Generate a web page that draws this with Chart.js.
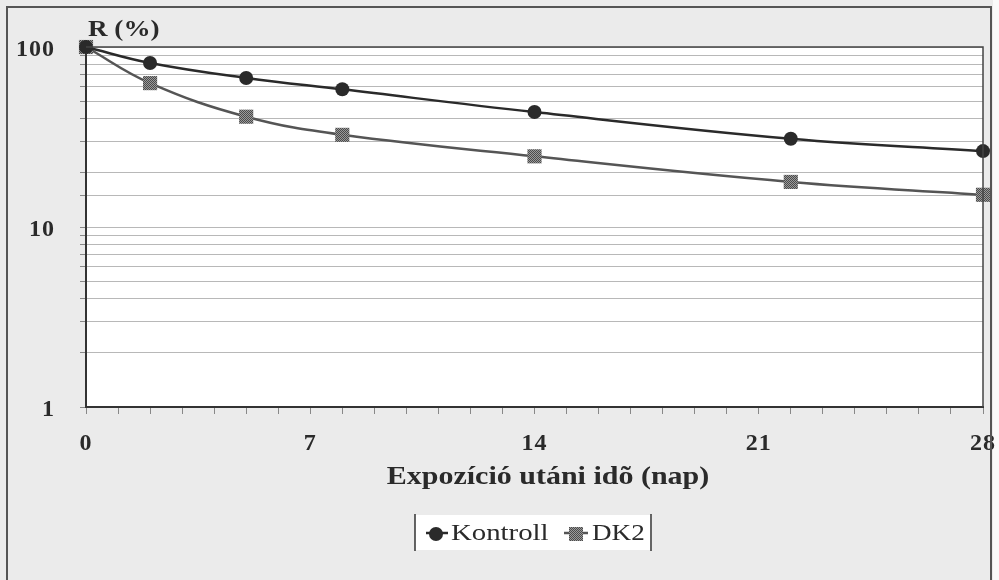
<!DOCTYPE html>
<html>
<head>
<meta charset="utf-8">
<script src="https://cdn.jsdelivr.net/npm/chart.js@4.4.1/dist/chart.umd.min.js"></script>
<style>
  html, body { margin: 0; padding: 0; background: #ebebeb; }
  #wrap { width: 999px; height: 580px; }
</style>
</head>
<body>
<div id="wrap"><canvas id="chart" width="999" height="580"></canvas></div>
<script>
// adatok (leolvasva az ábráról)
const napok = [0, 2, 5, 8, 14, 22, 28]
const kontroll = [100, 81.5, 67.3, 58.2, 43.5, 30.9, 26.4]
const dk2 = [100, 63, 41, 32.5, 24.7, 17.8, 15.1]
const xCimkek = [0, 7, 14, 21, 28]
const yCimkek = [1, 10, 100]
const sorozatNevek = ["Kontroll", "DK2"]

const betu = "'Liberation Serif', 'DejaVu Serif', serif"

// kockás minta a DK2 jelölőkhöz
function kockasMinta() {
  const c = document.createElement("canvas")
  c.width = 2
  c.height = 2
  const g = c.getContext("2d")
  g.fillStyle = "#9a9a9a"
  g.fillRect(0, 0, 2, 2)
  g.fillStyle = "#4a4a4a"
  g.fillRect(0, 0, 1, 1)
  g.fillRect(1, 1, 1, 1)
  return g.createPattern(c, "repeat")
}
const minta = kockasMinta()

// vízszintesen nyújtott szöveg (a beszkennelt ábra betűi szélesebbek)
function nyujtottSzoveg(ctx, szoveg, x, y, igazitas, sx) {
  ctx.save()
  ctx.translate(x, y)
  ctx.scale(sx, 1)
  ctx.textAlign = igazitas
  ctx.fillText(szoveg, 0, 0)
  ctx.restore()
}

const hatter = {
  id: "hatter",
  beforeDraw(chart) {
    const { ctx, chartArea: a } = chart
    ctx.save()
    ctx.fillStyle = "#ebebeb"
    ctx.fillRect(0, 0, chart.width, chart.height)
    ctx.fillStyle = "#fafafa"
    ctx.fillRect(993, 0, 6, chart.height)
    ctx.fillStyle = "#ffffff"
    ctx.fillRect(a.left, a.top, a.right - a.left, a.bottom - a.top)
    ctx.restore()
    ctx.letterSpacing = "1px"
  },
  afterDatasetsDraw(chart) {
    const { ctx, chartArea: a } = chart
    ctx.save()
    ctx.strokeStyle = "#444"
    ctx.lineWidth = 1.5
    ctx.beginPath()
    ctx.moveTo(a.left, a.top)
    ctx.lineTo(a.right, a.top)
    ctx.lineTo(a.right, a.bottom)
    ctx.stroke()
    ctx.restore()
  },
  afterDraw(chart) {
    const ctx = chart.ctx
    ctx.save()
    ctx.letterSpacing = "0px"
    // tengelycímek
    ctx.fillStyle = "#2a2a2a"
    ctx.textBaseline = "middle"
    ctx.font = "bold 24px " + betu
    nyujtottSzoveg(ctx, "R (%)", 88, 30, "left", 1.13)
    ctx.font = "bold 25px " + betu
    nyujtottSzoveg(ctx, "Expozíció utáni idõ (nap)", 548, 478, "center", 1.2)

    // jelmagyarázat
    ctx.fillStyle = "#ffffff"
    ctx.fillRect(415, 515, 237, 35)
    ctx.strokeStyle = "#333"
    ctx.lineWidth = 1.5
    ctx.beginPath()
    ctx.moveTo(415, 514); ctx.lineTo(415, 551)
    ctx.moveTo(651, 514); ctx.lineTo(651, 551)
    ctx.stroke()

    ctx.lineWidth = 2.5
    ctx.strokeStyle = "#2a2a2a"
    ctx.beginPath(); ctx.moveTo(426, 533); ctx.lineTo(448, 533); ctx.stroke()
    ctx.fillStyle = "#2a2a2a"
    ctx.beginPath(); ctx.arc(436, 534, 7, 0, Math.PI * 2); ctx.fill()

    ctx.strokeStyle = "#555"
    ctx.beginPath(); ctx.moveTo(564, 533); ctx.lineTo(588, 533); ctx.stroke()
    ctx.fillStyle = minta
    ctx.fillRect(569, 527, 14, 14)

    ctx.fillStyle = "#2a2a2a"
    ctx.font = "24px " + betu
    nyujtottSzoveg(ctx, sorozatNevek[0], 451, 534, "left", 1.2)
    nyujtottSzoveg(ctx, sorozatNevek[1], 592, 534, "left", 1.13)

    // külső keret
    ctx.strokeStyle = "#555"
    ctx.lineWidth = 2
    ctx.beginPath()
    ctx.moveTo(7, 580)
    ctx.lineTo(7, 7)
    ctx.lineTo(991, 7)
    ctx.lineTo(991, 580)
    ctx.stroke()
    ctx.restore()
  },
}

new Chart(document.getElementById("chart"), {
  type: "line",
  data: {
    datasets: [
      {
        label: sorozatNevek[0],
        data: napok.map((n, i) => ({ x: n, y: kontroll[i] })),
        borderColor: "#2a2a2a",
        borderWidth: 2.5,
        pointStyle: "circle",
        pointRadius: 7,
        pointBackgroundColor: "#2a2a2a",
        pointBorderColor: "#2a2a2a",
        pointBorderWidth: 0,
        tension: 0.4,
        clip: false,
      },
      {
        label: sorozatNevek[1],
        data: napok.map((n, i) => ({ x: n, y: dk2[i] })),
        borderColor: "#555",
        borderWidth: 2.5,
        pointStyle: "rect",
        pointRadius: 10,
        pointBackgroundColor: minta,
        pointBorderColor: "#666",
        pointBorderWidth: 0,
        tension: 0.4,
        clip: false,
      },
    ],
  },
  options: {
    responsive: false,
    animation: false,
    layout: { padding: { top: 47, right: 16, bottom: 0, left: 0 } },
    plugins: { legend: { display: false }, tooltip: { enabled: false } },
    scales: {
      x: {
        type: "linear",
        min: 0,
        max: 28,
        afterFit: (s) => {
          s.height = 173
          s.paddingLeft = 0
          s.paddingRight = 0
        },
        grid: { drawOnChartArea: false, tickLength: 7, color: "#888", tickColor: "#888" },
        border: { display: true, color: "#333", width: 2 },
        ticks: {
          stepSize: 1,
          autoSkip: false,
          maxRotation: 0,
          padding: 15,
          color: "#2a2a2a",
          font: { family: betu, size: 24, weight: "bold" },
          callback: (v) => (xCimkek.includes(v) ? String(v) : ""),
        },
      },
      y: {
        type: "logarithmic",
        min: 1,
        max: 100,
        afterFit: (s) => {
          s.width = 86
          s.paddingTop = 0
          s.paddingBottom = 0
        },
        grid: { color: "#b8b8b8", tickLength: 6, tickColor: "#888" },
        border: { display: true, color: "#333", width: 2 },
        ticks: {
          autoSkip: false,
          padding: 25,
          labelOffset: 3,
          color: "#2a2a2a",
          font: { family: betu, size: 24, weight: "bold" },
          callback: (v) => (yCimkek.includes(v) ? String(v) : ""),
        },
      },
    },
  },
  plugins: [hatter],
})
</script>
</body>
</html>
